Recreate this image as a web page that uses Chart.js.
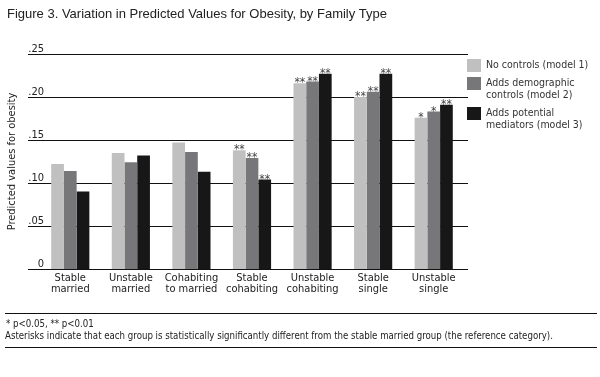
<!DOCTYPE html>
<html>
<head>
<meta charset="utf-8">
<script src="https://cdn.jsdelivr.net/npm/chart.js@4.4.0/dist/chart.umd.min.js"></script>
<style>
  html, body { margin: 0; padding: 0; background: #fff; }
  canvas { display: block; }
</style>
</head>
<body>
<canvas id="obesityChart" width="600" height="377"></canvas>
<script>
// ------------------------- Chart data -------------------------
const familyTypes = [
  ['Stable', 'married'], ['Unstable', 'married'], ['Cohabiting', 'to married'],
  ['Stable', 'cohabiting'], ['Unstable', 'cohabiting'], ['Stable', 'single'], ['Unstable', 'single']
];
const seriesNames = ['No controls (model 1)', 'Adds demographic controls (model 2)', 'Adds potential mediators (model 3)'];
const legendLines = [['No controls (model 1)'], ['Adds demographic', 'controls (model 2)'], ['Adds potential', 'mediators (model 3)']];
const noControls  = [0.122, 0.135, 0.147, 0.138, 0.216, 0.200, 0.176];
const demographic = [0.114, 0.124, 0.136, 0.129, 0.218, 0.206, 0.183];
const mediators   = [0.090, 0.132, 0.113, 0.104, 0.227, 0.227, 0.191];
const starsModel1 = ['', '', '', '**', '**', '**', '*'];
const starsModel2 = ['', '', '', '**', '**', '**', '*'];
const starsModel3 = ['', '', '', '**', '**', '**', '**'];
const yTickLabels = ['0', '.05', '.10', '.15', '.20', '.25'];

const titleText = 'Figure 3. Variation in Predicted Values for Obesity, by Family Type';
const noteLines = [
  '* p<0.05, ** p<0.01',
  'Asterisks indicate that each group is statistically significantly different from the stable married group (the reference category).'
];

const FONT = '"Liberation Sans Narrow", "DejaVu Sans Condensed", "Liberation Sans", sans-serif';
const colors = ['#c0c0c0', '#77777a', '#171717'];
const allStars = [starsModel1, starsModel2, starsModel3];

// ------------------------- Extra drawing (grid, stars, legend, notes) -------------------------
const figurePlugin = {
  id: 'figure',
  beforeDatasetsDraw(chart) {
    const ctx = chart.ctx;
    const y = chart.scales.y;
    ctx.save();
    ctx.strokeStyle = '#111';
    ctx.lineWidth = 1;
    ctx.fillStyle = '#222';
    ctx.font = '11px ' + FONT;
    ctx.textAlign = 'right';
    ctx.textBaseline = 'alphabetic';
    y.ticks.forEach((t, i) => {
      const py = Math.round(y.getPixelForValue(t.value)) + 0.5;
      ctx.beginPath();
      ctx.moveTo(28, py);
      ctx.lineTo(468, py);
      ctx.stroke();
      ctx.fillText(yTickLabels[i], 44, py - 3);
    });
    ctx.restore();
  },
  afterDatasetsDraw(chart) {
    const ctx = chart.ctx;
    ctx.save();
    ctx.fillStyle = '#444';
    ctx.font = '12px ' + FONT;
    ctx.textAlign = 'center';
    ctx.textBaseline = 'alphabetic';
    chart.data.datasets.forEach((ds, d) => {
      chart.getDatasetMeta(d).data.forEach((bar, i) => {
        const s = allStars[d][i];
        if (s) ctx.fillText(s, bar.x, bar.y + 3);
      });
    });
    ctx.restore();
  },
  afterDraw(chart) {
    const ctx = chart.ctx;
    ctx.save();
    // figure title
    ctx.fillStyle = '#222';
    ctx.font = '13px "Liberation Sans", sans-serif';
    ctx.textAlign = 'left';
    ctx.textBaseline = 'alphabetic';
    ctx.fillText(titleText, 7, 18);

    // legend
    const boxTops = [59, 77, 107];
    ctx.font = '10.5px ' + FONT;
    ctx.textBaseline = 'middle';
    legendLines.forEach((lines, i) => {
      ctx.fillStyle = colors[i];
      ctx.fillRect(467, boxTops[i], 14, 13);
      ctx.fillStyle = '#333';
      lines.forEach((ln, j) => ctx.fillText(ln, 486, boxTops[i] + 6 + j * 12));
    });

    // footnote rules and text
    ctx.strokeStyle = '#111';
    ctx.lineWidth = 1;
    [313.5, 347.5].forEach(py => {
      ctx.beginPath();
      ctx.moveTo(5, py);
      ctx.lineTo(597, py);
      ctx.stroke();
    });
    ctx.fillStyle = '#222';
    ctx.font = '9.6px ' + FONT;
    ctx.textBaseline = 'alphabetic';
    ctx.fillText(noteLines[0], 6, 327);
    ctx.fillText(noteLines[1], 5, 339);
    ctx.restore();
  }
};

// ------------------------- Chart -------------------------
const ctx = document.getElementById('obesityChart');
new Chart(ctx, {
  type: 'bar',
  data: {
    labels: familyTypes,
    datasets: [noControls, demographic, mediators].map((vals, i) => ({
      label: seriesNames[i],
      data: vals,
      backgroundColor: colors[i],
      borderWidth: 0,
      categoryPercentage: 0.63,
      barPercentage: 1.0
    }))
  },
  options: {
    responsive: false,
    animation: false,
    devicePixelRatio: 1,
    layout: { padding: { left: 0, right: 136, top: 54, bottom: 78 } },
    scales: {
      x: {
        grid: { display: false, drawTicks: false },
        border: { display: false },
        ticks: {
          color: '#222',
          font: { size: 11, family: FONT, lineHeight: 0.95 },
          padding: 4,
          maxRotation: 0,
          autoSkip: false
        },
        afterFit(scale) { scale.height = 30; }
      },
      y: {
        min: 0,
        max: 0.25,
        ticks: { display: false, stepSize: 0.05 },
        grid: { display: false, drawTicks: false },
        border: { display: false },
        title: {
          display: true,
          text: 'Predicted values for obesity',
          color: '#222',
          font: { size: 11, family: FONT },
          padding: { top: 6, bottom: 0 }
        },
        afterFit(scale) { scale.width = 40; }
      }
    },
    plugins: {
      legend: { display: false },
      tooltip: { enabled: false }
    }
  },
  plugins: [figurePlugin]
});
</script>
</body>
</html>
